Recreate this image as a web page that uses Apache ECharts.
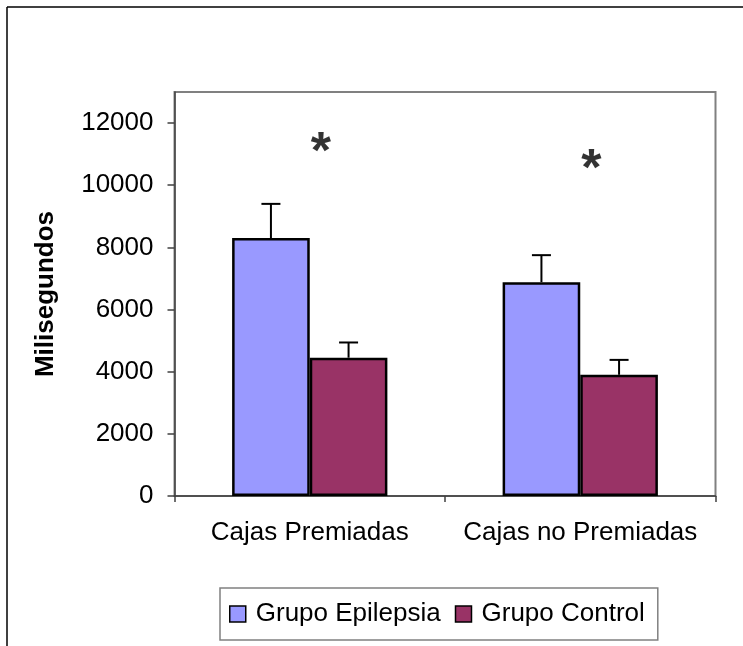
<!DOCTYPE html>
<html>
<head>
<meta charset="utf-8">
<script src="https://cdn.jsdelivr.net/npm/echarts@6/dist/echarts.min.js"></script>
<style>
html,body{margin:0;padding:0;background:#fff;}
#chart{width:743px;height:646px;}
</style>
</head>
<body>
<div id="chart"></div>
<script>
const categories = ['Cajas Premiadas', 'Cajas no Premiadas'];
const seriesNames = ['Grupo Epilepsia', 'Grupo Control'];
const epilepsia = [8300, 6880];
const control = [4450, 3900];
const epilepsiaErr = [1100, 870];
const controlErr = [490, 480];
const significance = [11370, 10820];
const yTicks = [0, 2000, 4000, 6000, 8000, 10000, 12000];
const yMax = 13000;

const FONT = "'Liberation Sans', Arial, sans-serif";
const colors = ['#9999FF', '#993366'];
const gapPct = 42.6;

const chart = echarts.init(document.getElementById('chart'), null, {renderer: 'canvas'});

function errorSeries(sIdx, values, errs) {
  return {
    type: 'custom',
    name: seriesNames[sIdx] + ' error',
    z: 5,
    silent: true,
    data: values.map((v, i) => [i, v, errs[i]]),
    renderItem: function (params, api) {
      const ci = api.value(0);
      const v = api.value(1);
      const e = api.value(2);
      const base = api.coord([ci, v]);
      const top = api.coord([ci, v + e]);
      const catW = api.size([1, 0])[0];
      const bw = catW * (1 - gapPct / 100) / 2;
      const x = base[0] + (sIdx - 0.5) * bw;
      const half = 9.5;
      const style = {stroke: '#000', lineWidth: 2};
      return {
        type: 'group',
        children: [
          {type: 'line', shape: {x1: x, y1: base[1], x2: x, y2: top[1]}, style: style},
          {type: 'line', shape: {x1: x - half, y1: top[1], x2: x + half, y2: top[1]}, style: style}
        ]
      };
    }
  };
}

const option = {
  animation: false,
  backgroundColor: '#fff',
  textStyle: {fontFamily: FONT},
  grid: {
    left: 174.5, right: 27.5, top: 92, bottom: 150,
    show: true, borderColor: '#808080', borderWidth: 2, backgroundColor: 'transparent'
  },
  legend: {
    data: seriesNames,
    left: 220, top: 588,
    orient: 'horizontal',
    icon: 'rect',
    itemWidth: 16, itemHeight: 16,
    itemGap: 14,
    padding: [13, 13, 13, 9],
    borderColor: '#808080', borderWidth: 1.5,
    itemStyle: {borderColor: '#000', borderWidth: 1.5},
    textStyle: {fontFamily: FONT, fontSize: 26, color: '#000', padding: [0, 0, 0, 5]}
  },
  xAxis: {
    type: 'category',
    data: categories,
    axisLine: {lineStyle: {color: '#404040', width: 1.5}},
    axisTick: {show: true, length: 6, lineStyle: {color: '#404040', width: 1.5}},
    axisLabel: {fontFamily: FONT, fontSize: 26, color: '#000', margin: 24, interval: 0}
  },
  yAxis: {
    type: 'value',
    min: 0, max: yMax, interval: 2000,
    name: 'Milisegundos',
    nameLocation: 'middle',
    nameRotate: 90,
    nameGap: 116,
    nameTextStyle: {fontFamily: FONT, fontSize: 26, fontWeight: 'bold', color: '#000'},
    splitLine: {show: false},
    axisLine: {show: true, lineStyle: {color: '#404040', width: 1.5}},
    axisTick: {show: true, length: 7, customValues: yTicks, lineStyle: {color: '#404040', width: 1.5}},
    axisLabel: {
      fontFamily: FONT, fontSize: 26, color: '#000', margin: 21, customValues: yTicks,
      formatter: function (v) { return String(v); }
    }
  },
  graphic: [
    {type: 'line', shape: {x1: 7, y1: 7, x2: 743, y2: 7}, style: {stroke: '#000', lineWidth: 1.5}},
    {type: 'line', shape: {x1: 7, y1: 7, x2: 7, y2: 646}, style: {stroke: '#000', lineWidth: 1.5}}
  ],
  series: [
    {
      name: seriesNames[0], type: 'bar', data: epilepsia,
      barGap: '0%', barCategoryGap: gapPct + '%',
      itemStyle: {color: colors[0], borderColor: '#000', borderWidth: 2.5}
    },
    {
      name: seriesNames[1], type: 'bar', data: control,
      barGap: '0%', barCategoryGap: gapPct + '%',
      itemStyle: {color: colors[1], borderColor: '#000', borderWidth: 2.5}
    },
    errorSeries(0, epilepsia, epilepsiaErr),
    errorSeries(1, control, controlErr),
    {
      type: 'scatter',
      name: 'sig',
      data: significance,
      symbolSize: 0,
      silent: true,
      label: {
        show: true, position: 'inside', formatter: '*', offset: [11, 11],
        fontFamily: FONT, fontSize: 52, fontWeight: 'bold', color: '#000',
        textBorderWidth: 0
      }
    }
  ]
};
chart.setOption(option);
</script>
</body>
</html>
